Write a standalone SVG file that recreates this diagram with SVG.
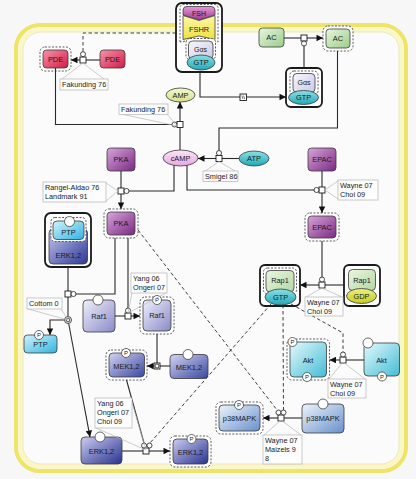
<svg xmlns="http://www.w3.org/2000/svg" width="416" height="479" viewBox="0 0 416 479">
<defs>
<style>
.n{stroke:#3a3a3a;stroke-width:0.8}
.t{font-family:"Liberation Sans",Arial,sans-serif;font-size:7.4px;fill:#1a1a1a;text-anchor:middle}
.lb{font-family:"Liberation Sans",Arial,sans-serif;font-size:7.3px;fill:#222}
.sp{font-family:"Liberation Sans",Arial,sans-serif;font-size:6px;fill:#222;text-anchor:middle}
.box{fill:#fdfdfd;stroke:#b4b4b4;stroke-width:0.7}
.co{stroke:#b8b8b8;stroke-width:0.7;fill:none}
.e{stroke:#2a2a2a;stroke-width:1.1;fill:none}
.d{stroke:#2a2a2a;stroke-width:0.9;fill:none;stroke-dasharray:3.5 2.5}
.dout{fill:#fff;stroke:#333;stroke-width:0.8;stroke-dasharray:2 1.5}
.cx{fill:#fff;stroke:#1a1a1a;stroke-width:1.8}
.pr{fill:#fff;stroke:#1a1a1a;stroke-width:0.9}
.cat{fill:#fff;stroke:#1a1a1a;stroke-width:0.8}
.sv{fill:#fff;stroke:#444;stroke-width:0.8}
</style>
<linearGradient id="gRed" x1="0" y1="0" x2="1" y2="1"><stop offset="0" stop-color="#f894a8"/><stop offset="1" stop-color="#d21a48"/></linearGradient>
<linearGradient id="gGreen" x1="0" y1="0" x2="1" y2="1"><stop offset="0" stop-color="#e8f6e0"/><stop offset="1" stop-color="#9ccc88"/></linearGradient>
<linearGradient id="gPurple" x1="0" y1="0" x2="1" y2="1"><stop offset="0" stop-color="#d8a4dc"/><stop offset="1" stop-color="#7a2a82"/></linearGradient>
<linearGradient id="gCyan" x1="0" y1="0" x2="1" y2="1"><stop offset="0" stop-color="#d0f4fc"/><stop offset="1" stop-color="#30b4e0"/></linearGradient>
<linearGradient id="gErkC" x1="0" y1="0" x2="1" y2="1"><stop offset="0" stop-color="#c8c8f0"/><stop offset="1" stop-color="#2c3894"/></linearGradient>
<linearGradient id="gRaf" x1="0" y1="0" x2="1" y2="1"><stop offset="0" stop-color="#f0f0fc"/><stop offset="1" stop-color="#8a8ac8"/></linearGradient>
<linearGradient id="gMek" x1="0" y1="0" x2="1" y2="1"><stop offset="0" stop-color="#d4d4f2"/><stop offset="1" stop-color="#3a48a0"/></linearGradient>
<linearGradient id="gErk" x1="0" y1="0" x2="1" y2="1"><stop offset="0" stop-color="#ccccf0"/><stop offset="1" stop-color="#283290"/></linearGradient>
<linearGradient id="gAkt" x1="0" y1="0" x2="1" y2="1"><stop offset="0" stop-color="#e4fafc"/><stop offset="1" stop-color="#44bcd6"/></linearGradient>
<linearGradient id="gP38" x1="0" y1="0" x2="1" y2="1"><stop offset="0" stop-color="#eef4fc"/><stop offset="1" stop-color="#6890cc"/></linearGradient>
<linearGradient id="gRap" x1="0" y1="0" x2="1" y2="1"><stop offset="0" stop-color="#eaf6e2"/><stop offset="1" stop-color="#b4d8a2"/></linearGradient>
<linearGradient id="gGas" x1="0" y1="0" x2="1" y2="1"><stop offset="0" stop-color="#f8f8fe"/><stop offset="1" stop-color="#c8c8e6"/></linearGradient>
<linearGradient id="gTeal" x1="0" y1="0" x2="0" y2="1"><stop offset="0" stop-color="#8ce0e6"/><stop offset="1" stop-color="#22a8b8"/></linearGradient>
<linearGradient id="gGdp" x1="0" y1="0" x2="0" y2="1"><stop offset="0" stop-color="#ecf080"/><stop offset="1" stop-color="#c4cc22"/></linearGradient>
<linearGradient id="gAmp" x1="0" y1="0" x2="0" y2="1"><stop offset="0" stop-color="#f4f8cc"/><stop offset="1" stop-color="#d6e28c"/></linearGradient>
<linearGradient id="gCamp" x1="0" y1="0" x2="0" y2="1"><stop offset="0" stop-color="#fbe4f8"/><stop offset="1" stop-color="#e6a6de"/></linearGradient>
<linearGradient id="gFsh" x1="0" y1="0" x2="0" y2="1"><stop offset="0" stop-color="#e49ad6"/><stop offset="1" stop-color="#a03890"/></linearGradient>
<linearGradient id="gFshr" x1="0" y1="0" x2="0" y2="1"><stop offset="0" stop-color="#fcf8a8"/><stop offset="1" stop-color="#f0e040"/></linearGradient>
<marker id="arr" viewBox="0 0 10 10" refX="10" refY="5" markerWidth="7.5" markerHeight="6.5" markerUnits="userSpaceOnUse" orient="auto"><path d="M0,0 L10,5 L0,10 z" fill="#111"/></marker>
</defs>

<rect x="0" y="0" width="416" height="479" fill="#f7f7f7"/>

<g id="compartment">
<rect x="16" y="25" width="390" height="446" rx="24" fill="#fbfbfb" stroke="#ede468" stroke-width="4"/>
<rect x="20.5" y="29.5" width="381" height="437" rx="20" fill="none" stroke="#fbf7c4" stroke-width="4.5"/>
<rect x="23" y="32" width="376" height="432" rx="18" fill="none" stroke="#e6e0a8" stroke-width="0.7"/>
</g>

<g id="nodes">
<g id="fshr_complex">
<rect class="cx" x="176" y="3" width="46" height="69" rx="6"/>
<path class="dout" d="M180,42 L180,8 Q180,4.5 184,4.5 L214,4.5 Q218,4.5 218,8 L218,42 L199,38.5 Z"/>
<path class="n" d="M183,15 L183,10 Q183,6.5 187,6.5 L211,6.5 Q215,6.5 215,10 L215,15 L199,20 Z" fill="url(#gFsh)"/>
<text class="t" x="199" y="15.5" style="font-size:7px">FSH</text>
<path class="n" d="M183,15.5 L199,20.5 L215,15.5 L215,39.5 L199,36 L183,39.5 Z" fill="url(#gFshr)"/>
<text class="t" x="199" y="31.5">FSHR</text>
<rect class="dout" x="186" y="38.5" width="29.5" height="21" rx="4"/>
<rect class="n" x="188.5" y="41" width="24.5" height="18" rx="4" fill="url(#gGas)"/>
<text class="t" x="200.5" y="52" style="font-size:7px">Gαs</text>
<ellipse class="n" cx="201" cy="62.5" rx="14" ry="7.5" fill="url(#gTeal)"/>
<text class="t" x="201" y="65.2">GTP</text>
</g>

<g id="pde_active">
<rect class="dout" x="40" y="47" width="31" height="24" rx="5"/>
<rect class="n" x="43" y="50" width="25" height="18" rx="3.5" fill="url(#gRed)"/>
<text class="t" x="55.5" y="61.6">PDE</text>
</g>
<g id="pde">
<rect class="n" x="100" y="50" width="25" height="18" rx="3.5" fill="url(#gRed)"/>
<text class="t" x="112.5" y="61.6">PDE</text>
</g>

<g id="ac">
<rect class="n" x="259" y="28" width="25" height="19" rx="3.5" fill="url(#gGreen)"/>
<text class="t" x="271.5" y="40.2">AC</text>
</g>
<g id="ac_active">
<rect class="dout" x="323" y="26" width="30" height="25" rx="5"/>
<rect class="n" x="326" y="29" width="24" height="19" rx="3.5" fill="url(#gGreen)"/>
<text class="t" x="338" y="41.2">AC</text>
</g>

<g id="gas_gtp_complex">
<rect class="cx" x="286" y="68" width="36" height="39" rx="5"/>
<rect class="dout" x="290" y="71" width="28" height="24" rx="4"/>
<rect class="n" x="293" y="73.5" width="22" height="19" rx="4" fill="url(#gGas)"/>
<text class="t" x="304" y="84.5" style="font-size:7px">Gαs</text>
<ellipse class="n" cx="303.5" cy="97.5" rx="15" ry="7" fill="url(#gTeal)"/>
<text class="t" x="303.5" y="100.2">GTP</text>
</g>

<g id="amp">
<ellipse class="n" cx="180.5" cy="95" rx="14.5" ry="7" fill="url(#gAmp)"/>
<text class="t" x="180.5" y="97.6">AMP</text>
</g>
<g id="camp">
<ellipse class="n" cx="180.5" cy="158" rx="17.5" ry="8" fill="url(#gCamp)"/>
<text class="t" x="180.5" y="160.6">cAMP</text>
</g>
<g id="atp">
<ellipse class="n" cx="254" cy="158.5" rx="15" ry="7.5" fill="url(#gTeal)"/>
<text class="t" x="254" y="161.1">ATP</text>
</g>

<g id="pka">
<rect class="n" x="107" y="148" width="28" height="23" rx="3.5" fill="url(#gPurple)"/>
<text class="t" x="121" y="162.2">PKA</text>
</g>
<g id="pka_active">
<rect class="dout" x="104" y="209" width="34" height="29" rx="5"/>
<rect class="n" x="107" y="212" width="28" height="23" rx="3.5" fill="url(#gPurple)"/>
<text class="t" x="121" y="226.2">PKA</text>
</g>
<g id="epac">
<rect class="n" x="308" y="148" width="28" height="23" rx="3.5" fill="url(#gPurple)"/>
<text class="t" x="322" y="162.2">EPAC</text>
</g>
<g id="epac_active">
<rect class="dout" x="305" y="213" width="34" height="28" rx="5"/>
<rect class="n" x="308" y="216" width="28" height="22" rx="3.5" fill="url(#gPurple)"/>
<text class="t" x="322" y="229.7">EPAC</text>
</g>

<g id="rap1_gtp_complex">
<rect class="cx" x="260" y="265" width="40" height="41" rx="5"/>
<rect class="dout" x="263.5" y="268" width="33" height="26" rx="4"/>
<rect class="n" x="266" y="270.5" width="28" height="21.5" rx="4" fill="url(#gRap)"/>
<text class="t" x="280" y="283">Rap1</text>
<ellipse class="n" cx="280.5" cy="297" rx="15.5" ry="8" fill="url(#gTeal)"/>
<text class="t" x="280.5" y="299.6">GTP</text>
</g>
<g id="rap1_gdp_complex">
<rect class="cx" x="344" y="265" width="36" height="41" rx="5"/>
<rect class="n" x="348.5" y="269.5" width="27" height="21" rx="4" fill="url(#gRap)"/>
<text class="t" x="362" y="282.5">Rap1</text>
<ellipse class="n" cx="361.5" cy="296" rx="15" ry="7.5" fill="url(#gGdp)"/>
<text class="t" x="361.5" y="298.6">GDP</text>
</g>

<g id="ptp_erk_complex">
<rect class="cx" x="45" y="213" width="46" height="54" rx="6"/>
<rect class="n" x="49" y="229" width="38.5" height="35" rx="4" fill="url(#gErkC)"/>
<text class="t" x="68.3" y="257.5">ERK1,2</text>
<rect class="dout" x="51" y="217.5" width="35" height="24" rx="4"/>
<rect class="n" x="53" y="221" width="31" height="18.5" rx="4" fill="url(#gCyan)"/>
<text class="t" x="68.5" y="234.5">PTP</text>
<circle class="sv" cx="69.5" cy="221.5" r="5"/>
</g>

<g id="ptp_p">
<rect class="n" x="24" y="335" width="33" height="18" rx="3.5" fill="url(#gCyan)"/>
<text class="t" x="40.5" y="347">PTP</text>
<circle class="sv" cx="39" cy="335" r="4.5"/>
<text class="sp" x="39" y="337.2">P</text>
</g>

<g id="raf1">
<rect class="n" x="83" y="300" width="32" height="32" rx="4" fill="url(#gRaf)"/>
<text class="t" x="99" y="318.6">Raf1</text>
<circle class="sv" cx="98" cy="300" r="5"/>
</g>
<g id="raf1_p">
<rect class="dout" x="140" y="297" width="34" height="37" rx="5"/>
<rect class="n" x="143" y="300" width="28" height="31" rx="4" fill="url(#gRaf)"/>
<text class="t" x="157" y="318">Raf1</text>
<circle class="sv" cx="157" cy="300" r="4.5"/>
<text class="sp" x="157" y="302.2">P</text>
</g>

<g id="mek_p">
<rect class="dout" x="106" y="350" width="41" height="30" rx="5"/>
<rect class="n" x="109" y="353" width="35.5" height="24" rx="4" fill="url(#gMek)"/>
<text class="t" x="126.5" y="368.5">MEK1,2</text>
<circle class="sv" cx="126" cy="353" r="4.5"/>
<text class="sp" x="126" y="355.2">P</text>
</g>
<g id="mek">
<rect class="n" x="170" y="354.5" width="38" height="24" rx="4" fill="url(#gMek)"/>
<text class="t" x="189" y="369.5">MEK1,2</text>
<circle class="sv" cx="188" cy="354.5" r="5"/>
</g>

<g id="erk">
<rect class="n" x="81" y="437" width="41" height="27" rx="4" fill="url(#gErk)"/>
<text class="t" x="101.5" y="453.5">ERK1,2</text>
<circle class="sv" cx="100" cy="437" r="5"/>
</g>
<g id="erk_p">
<rect class="dout" x="170" y="436" width="41" height="31" rx="5"/>
<rect class="n" x="173" y="439" width="35" height="25" rx="4" fill="url(#gErk)"/>
<text class="t" x="190.5" y="454.5">ERK1,2</text>
<circle class="sv" cx="191.5" cy="439" r="4.5"/>
<text class="sp" x="191.5" y="441.2">P</text>
</g>

<g id="akt_p">
<rect class="dout" x="287" y="339" width="42.5" height="41" rx="5"/>
<rect class="n" x="290" y="342" width="36.5" height="35" rx="4" fill="url(#gAkt)"/>
<text class="t" x="308" y="362.5">Akt</text>
<circle class="sv" cx="292.5" cy="342" r="4.5"/>
<text class="sp" x="292.5" y="344.2">P</text>
<circle class="sv" cx="307" cy="377" r="4.5"/>
<text class="sp" x="307" y="379.2">P</text>
</g>
<g id="akt">
<rect class="n" x="364" y="343" width="35.5" height="33" rx="4" fill="url(#gAkt)"/>
<text class="t" x="381.5" y="362.5">Akt</text>
<circle class="sv" cx="368" cy="343" r="5"/>
<circle class="sv" cx="382" cy="376.5" r="4.5"/>
<text class="sp" x="382" y="378.7">P</text>
</g>

<g id="p38_p">
<rect class="dout" x="216" y="402" width="47" height="32" rx="5"/>
<rect class="n" x="219" y="405" width="41" height="26" rx="4" fill="url(#gP38)"/>
<text class="t" x="239.5" y="420.8">p38MAPK</text>
<circle class="sv" cx="239" cy="405" r="4.5"/>
<text class="sp" x="239" y="407.2">P</text>
</g>
<g id="p38">
<rect class="n" x="302" y="404" width="42" height="29" rx="4" fill="url(#gP38)"/>
<text class="t" x="323" y="421">p38MAPK</text>
<circle class="sv" cx="323" cy="404" r="5"/>
</g>
</g>

<g id="connectors">
<!-- PDE activation -->
<line class="e" x1="100" y1="60" x2="86" y2="60"/>
<line class="e" x1="80" y1="60" x2="71" y2="60" marker-end="url(#arr)"/>
<path class="d" d="M176,33 H83 V51.5"/>
<rect class="pr" x="80" y="57" width="6" height="6"/>
<circle class="cat" cx="83" cy="54.2" r="2.5"/>
<!-- cAMP -> AMP -->
<path class="e" d="M55.5,68 V124.5 H172"/>
<circle class="cat" cx="174.5" cy="124.5" r="2.5"/>
<line class="e" x1="180" y1="150" x2="180" y2="127.5"/>
<line class="e" x1="180" y1="121.5" x2="180" y2="102" marker-end="url(#arr)"/>
<rect class="pr" x="177" y="121.5" width="6" height="6"/>
<!-- ATP -> cAMP -->
<line class="e" x1="239" y1="158.5" x2="222" y2="158.5"/>
<line class="e" x1="216" y1="158.5" x2="198" y2="158.5" marker-end="url(#arr)"/>
<path class="e" d="M219,150.5 V128 H337.5 V51"/>
<rect class="pr" x="216" y="155.5" width="6" height="6"/>
<circle class="cat" cx="219" cy="153" r="2.5"/>
<!-- AC activation -->
<line class="e" x1="284" y1="38" x2="301" y2="38"/>
<line class="e" x1="307" y1="38" x2="323" y2="38" marker-end="url(#arr)"/>
<line class="e" x1="304" y1="46" x2="304" y2="68"/>
<rect class="pr" x="301" y="35" width="6" height="6"/>
<circle class="cat" cx="304" cy="43.5" r="2.5"/>
<!-- FSHR -> Gas-GTP (omitted process) -->
<path class="e" d="M200,72 V97 H286" marker-end="url(#arr)"/>
<rect class="pr" x="240" y="94" width="6.5" height="6.5"/>
<line x1="241.8" y1="95.5" x2="243" y2="99" stroke="#222" stroke-width="0.6"/>
<line x1="243.5" y1="95.5" x2="244.7" y2="99" stroke="#222" stroke-width="0.6"/>
<!-- PKA activation -->
<line class="e" x1="121" y1="171" x2="121" y2="188"/>
<line class="e" x1="121" y1="194" x2="121" y2="209" marker-end="url(#arr)"/>
<path class="e" d="M129,191 H174 V165.5"/>
<rect class="pr" x="118" y="188" width="6" height="6"/>
<circle class="cat" cx="126.5" cy="191" r="2.5"/>
<!-- EPAC activation -->
<line class="e" x1="322" y1="171" x2="322" y2="187"/>
<line class="e" x1="322" y1="193" x2="322" y2="213" marker-end="url(#arr)"/>
<path class="e" d="M314,190 H187 V165.5"/>
<rect class="pr" x="319" y="187" width="6" height="6"/>
<circle class="cat" cx="316.5" cy="190" r="2.5"/>
<!-- Rap1 exchange -->
<line class="e" x1="322" y1="241" x2="322" y2="277"/>
<line class="e" x1="344" y1="285" x2="325" y2="285"/>
<line class="e" x1="319" y1="285" x2="300" y2="285" marker-end="url(#arr)"/>
<rect class="pr" x="319" y="282" width="6" height="6"/>
<circle class="cat" cx="322" cy="279.5" r="2.5"/>
<!-- PTP/ERK dissociation -->
<line class="e" x1="68" y1="267" x2="68" y2="291"/>
<path class="e" d="M76,294 H115 V238"/>
<line class="e" x1="68" y1="297" x2="68" y2="316.5"/>
<path class="e" d="M64.5,320 H50 V335" marker-end="url(#arr)"/>
<line class="e" x1="68.7" y1="323.5" x2="90" y2="437" marker-end="url(#arr)"/>
<rect class="pr" x="65" y="291" width="6" height="6"/>
<circle class="cat" cx="73.5" cy="294" r="2.5"/>
<circle class="cat" cx="68" cy="320" r="3.5"/>
<circle class="cat" cx="68" cy="320" r="1.8"/>
<!-- Raf1 phosphorylation -->
<line class="e" x1="115" y1="316" x2="125" y2="316"/>
<line class="e" x1="131" y1="316" x2="140" y2="316" marker-end="url(#arr)"/>
<line class="e" x1="128" y1="238" x2="128" y2="308"/>
<rect class="pr" x="125" y="313" width="6" height="6"/>
<circle class="cat" cx="128" cy="310.5" r="2.5"/>
<!-- MEK phosphorylation -->
<line class="e" x1="157" y1="334" x2="157" y2="364"/>
<line class="e" x1="170" y1="366" x2="160" y2="366"/>
<line class="e" x1="154" y1="366" x2="147" y2="366" marker-end="url(#arr)"/>
<rect class="pr" x="154" y="363" width="6" height="6"/>
<circle class="cat" cx="157" cy="366" r="2"/>
<!-- ERK phosphorylation -->
<line class="e" x1="126.5" y1="380" x2="144" y2="443"/>
<line class="d" x1="271" y1="304" x2="150" y2="443"/>
<line class="e" x1="122" y1="451" x2="143" y2="451"/>
<line class="e" x1="149" y1="451" x2="170" y2="451" marker-end="url(#arr)"/>
<rect class="pr" x="143" y="448" width="6" height="6"/>
<circle class="cat" cx="144" cy="445.5" r="2.5"/>
<circle class="cat" cx="149.5" cy="445.5" r="2.5"/>
<!-- Akt phosphorylation -->
<path class="d" d="M291,304 L343,333 V352"/>
<line class="e" x1="364" y1="360" x2="346" y2="360"/>
<line class="e" x1="340" y1="360" x2="329.5" y2="360" marker-end="url(#arr)"/>
<rect class="pr" x="340" y="357" width="6" height="6"/>
<circle class="cat" cx="343" cy="354.5" r="2.5"/>
<!-- p38 phosphorylation -->
<line class="d" x1="138" y1="230" x2="277" y2="410"/>
<line class="d" x1="283" y1="305" x2="283.5" y2="410"/>
<line class="e" x1="302" y1="418" x2="284" y2="418"/>
<line class="e" x1="278" y1="418" x2="263" y2="418" marker-end="url(#arr)"/>
<rect class="pr" x="278" y="415" width="6" height="6"/>
<circle class="cat" cx="278.5" cy="412.5" r="2.5"/>
<circle class="cat" cx="283.5" cy="412.5" r="2.5"/>
</g>

<g id="annotations">
<g id="ann_fakunding1">
<path class="co" d="M62,79 L83,63 L104,79"/>
<rect class="box" x="60" y="79" width="48" height="11"/>
<text class="lb" x="62" y="87.3">Fakunding 76</text>
</g>
<g id="ann_fakunding2">
<path class="co" d="M121,114 L177,126 L167,114"/>
<rect class="box" x="119" y="104" width="49" height="10.5"/>
<text class="lb" x="121" y="112">Fakunding 76</text>
</g>
<g id="ann_smigel">
<path class="co" d="M205,171 L219,161.5 L235,171"/>
<rect class="box" x="203" y="171" width="35" height="10.5"/>
<text class="lb" x="205" y="179">Smigel 86</text>
</g>
<g id="ann_rangel">
<path class="co" d="M106,183 L118,191 L106,201"/>
<rect class="box" x="43" y="182" width="63" height="20"/>
<text class="lb" x="45" y="190">Rangel-Aldao 76</text>
<text class="lb" x="45" y="199">Landmark 91</text>
</g>
<g id="ann_wayne_epac">
<path class="co" d="M338,181 L325,190 L338,199"/>
<rect class="box" x="338" y="180" width="40" height="20"/>
<text class="lb" x="340" y="188">Wayne 07</text>
<text class="lb" x="340" y="197">Choi 09</text>
</g>
<g id="ann_wayne_rap1">
<path class="co" d="M306,297 L322,288 L342,297"/>
<rect class="box" x="305" y="297" width="38" height="19"/>
<text class="lb" x="307" y="305">Wayne 07</text>
<text class="lb" x="307" y="314">Choi 09</text>
</g>
<g id="ann_cottom">
<path class="co" d="M28,309 L68,320 L61,309"/>
<rect class="box" x="27" y="298" width="35" height="11"/>
<text class="lb" x="29" y="306.3">Cottom 0</text>
</g>
<g id="ann_yang_raf">
<path class="co" d="M132,293 L128,313 L166,293"/>
<rect class="box" x="131" y="273" width="36" height="20"/>
<text class="lb" x="133" y="281">Yang 06</text>
<text class="lb" x="133" y="290">Ongeri 07</text>
</g>
<g id="ann_yang_erk">
<path class="co" d="M96,428 L146,450 L131,399"/>
<rect class="box" x="95" y="398" width="37" height="30"/>
<text class="lb" x="97" y="406">Yang 06</text>
<text class="lb" x="97" y="415">Ongeri 07</text>
<text class="lb" x="97" y="424">Choi 09</text>
</g>
<g id="ann_wayne_akt">
<path class="co" d="M329,379 L343,362 L365,379"/>
<rect class="box" x="328" y="379" width="38" height="19"/>
<text class="lb" x="330" y="387">Wayne 07</text>
<text class="lb" x="330" y="396">Choi 09</text>
</g>
<g id="ann_wayne_p38">
<path class="co" d="M264,435 L281,420 L301,435"/>
<rect class="box" x="263" y="435" width="39" height="29"/>
<text class="lb" x="265" y="443">Wayne 07</text>
<text class="lb" x="265" y="452">Maizels 9</text>
<text class="lb" x="265" y="461">8</text>
</g>
</g>
</svg>
